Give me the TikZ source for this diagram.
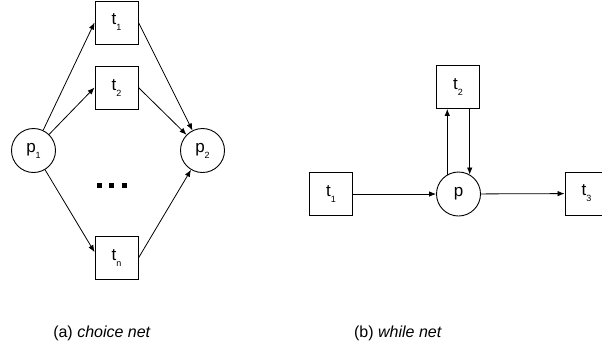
\documentclass[tikz,border=0pt]{standalone}
\usepackage{fontspec}
\setmainfont{Liberation Sans}
\usetikzlibrary{arrows.meta}
\newcommand{\lowidx}[1]{\raisebox{-6pt}{\fontsize{9}{9}\selectfont #1}}
\tikzset{
  trans/.style={draw, line width=0.9pt, minimum size=43pt, inner sep=0pt, font=\fontsize{17}{17}\selectfont},
  place/.style={draw, circle, line width=0.9pt, minimum size=44pt, inner sep=0pt, font=\fontsize{17}{17}\selectfont},
  arc/.style={line width=0.8pt, -{Latex[length=7pt,width=5.5pt]}},
  caption/.style={font=\fontsize{16}{16}\selectfont}
}
\begin{document}
\begin{tikzpicture}[x=1pt,y=-1pt]
\useasboundingbox (0,0) rectangle (602,349);
\clip (0,0) rectangle (602,349);
% (a) choice net
\node[place] (p1) at (33.5,150.5) {p\lowidx{1}};
\node[place] (p2) at (202.5,150.5) {p\lowidx{2}};
\node[trans] (ta1) at (116.5,22.5) {t\lowidx{1}};
\node[trans] (ta2) at (116.5,87.5) {t\lowidx{2}};
\node[trans] (tan) at (116.5,258) {t\lowidx{n}};
\foreach \i in {0,1,2}
  \fill (97+12.3*\i,183) rectangle ++(5,5);
\draw[arc] (p1) -- (ta1.west);
\draw[arc] (p1) -- (ta2.west);
\draw[arc] (p1) -- (tan.165);
\draw[arc] (ta1.east) -- (p2);
\draw[arc] (ta2.east) -- (p2);
\draw[arc] (tan.east) -- (p2);
\node[caption] (capa) at (102,333) {(a) \textit{choice net}};
% (b) while net
\node[trans] (tb1) at (331,194) {t\lowidx{1}};
\node[place] (p) at (458.5,194) {p};
\node[trans] (tb2) at (458,87) {t\lowidx{2}};
\node[trans] (tb3) at (586.5,193.5) {t\lowidx{3}};
\draw[arc] (tb1) -- (p);
\draw[arc] (p) -- (tb3);
\draw[arc] (p.120) -- (p.120 |- tb2.south);
\draw[arc] (p.60 |- tb2.south) -- (p.60);
\node[caption] (capb) at (398,333) {(b) \textit{while net}};
\end{tikzpicture}
\end{document}
